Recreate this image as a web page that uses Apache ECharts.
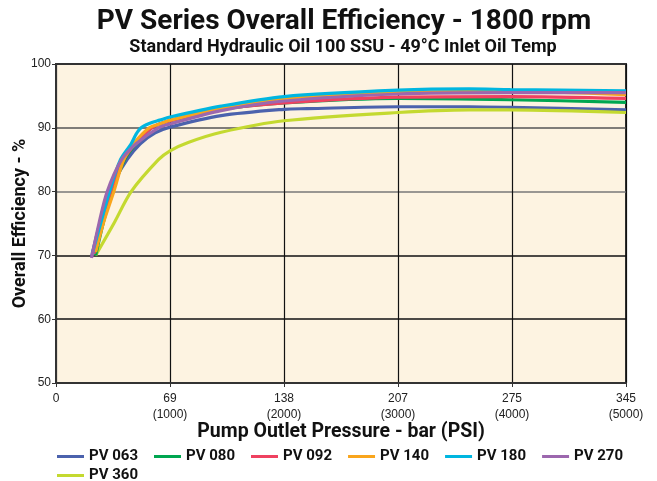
<!DOCTYPE html>
<html><head><meta charset="utf-8">
<script src="https://cdn.jsdelivr.net/npm/echarts@6/dist/echarts.min.js"></script>
<style>html,body{margin:0;padding:0;background:#fff}#c{width:657px;height:481px}</style>
</head><body><div id="c"></div>
<script>
// x values in bar, y values in % efficiency
const seriesNames = ['PV 063','PV 080','PV 092','PV 140','PV 180','PV 270','PV 360'];
const pv063 = [[21.5,69.8],[26.5,75],[32,80],[43,85],[51,87.5],[60,89.2],[69,90.1],[100,91.9],[138,92.9],[152,93.0],[207,93.3],[250,93.3],[275,93.2],[345,92.8]];
const pv080 = [[24,70],[28.5,75],[34,80],[41.5,85],[48.5,87.5],[58,90],[69,91.1],[100,92.9],[138,93.9],[207,94.6],[275,94.4],[345,94.0]];
const pv092 = [[23,70.3],[28,75],[33,80],[41,85],[48,87.5],[58,90],[69,91.1],[100,92.9],[138,93.9],[207,94.8],[275,94.9],[345,94.6]];
const pv140 = [[24,70.5],[28.6,75],[35,80],[41,85],[47,87.5],[56.5,90],[62.8,90.6],[69,91.2],[100,93.0],[138,94.6],[207,95.5],[275,95.7],[345,95.2]];
const pv180 = [[22,70.3],[27,75],[32.4,80],[39,85],[45.5,87.5],[48.5,89.0],[51.5,90],[56.8,90.7],[62.8,91.2],[69,91.7],[100,93.4],[138,94.9],[207,95.9],[250,96.1],[275,96.0],[345,95.8]];
const pv270 = [[21.5,69.6],[26,75],[31,80],[39.7,85],[48.5,87.5],[62,90],[69,90.6],[100,92.7],[138,94.2],[207,95.3],[275,95.5],[345,95.5]];
const pv360 = [[24,70],[35,75],[45.5,80],[62,85],[69,86.4],[80,87.7],[100,89.3],[138,91.1],[207,92.4],[250,92.8],[275,92.8],[345,92.4]];
const seriesData = [pv063,pv080,pv092,pv140,pv180,pv270,pv360];
const colors = ['#4b62ad','#00a650','#ef4160','#f9a51c','#00b6e0','#9c67ae','#c4d930'];
const xTickValues = [0,69,138,207,276,345];
const xTickLabels = ['0','69\n(1000)','138\n(2000)','207\n(3000)','275\n(4000)','345\n(5000)'];

const chart = echarts.init(document.getElementById('c'), null, {renderer:'canvas'});
const bold = 'Roboto, Liberation Sans, Arial, sans-serif';
const tick = 'Liberation Sans, Arial, sans-serif';
const legendText = {fontFamily:bold,fontWeight:'bold',fontSize:15,color:'#111'};
chart.setOption({
  animation:false,
  backgroundColor:'#ffffff',
  title:[
    {text:'PV Series Overall Efficiency - 1800 rpm', left:339, textAlign:'center', top:3,
     textStyle:{fontFamily:bold,fontWeight:'bold',fontSize:28,color:'#111'}},
    {text:'Standard Hydraulic Oil 100 SSU - 49°C Inlet Oil Temp', left:338, textAlign:'center', top:33,
     textStyle:{fontFamily:bold,fontWeight:'bold',fontSize:18,color:'#111'}}
  ],
  grid:{left:56,right:31,top:64,bottom:98,outerBoundsMode:'none',show:true,backgroundColor:'#fdf3e1',borderColor:'#333',borderWidth:2},
  legend:[
    {data:seriesNames.slice(0,6),left:52,top:444,width:620,itemWidth:27,itemHeight:3,itemGap:16,icon:'rect',textStyle:legendText},
    {data:seriesNames.slice(6),left:52,top:463,itemWidth:27,itemHeight:3,itemGap:16,icon:'rect',textStyle:legendText}
  ],
  xAxis:{type:'value',min:0,max:345,interval:69,
    name:'Pump Outlet Pressure - bar (PSI)',nameLocation:'middle',nameGap:39,nameMoveOverlap:false,
    nameTextStyle:{fontFamily:bold,fontWeight:'bold',fontSize:19.5,color:'#111'},
    axisLine:{show:true,lineStyle:{color:'#333',width:2}},
    axisTick:{show:true,length:4,lineStyle:{color:'#333'}},
    axisLabel:{fontFamily:tick,fontSize:12,color:'#222',lineHeight:16,margin:8,
      formatter:function(v){const i=xTickValues.indexOf(Math.round(v));return i>=0?xTickLabels[i]:'';}},
    splitLine:{show:true,lineStyle:{color:'#111',width:1.2}}},
  yAxis:{type:'value',min:50,max:100,interval:10,
    name:'Overall Efficiency - %',nameLocation:'middle',nameGap:27,nameMoveOverlap:false,
    nameTextStyle:{fontFamily:bold,fontWeight:'bold',fontSize:18,color:'#111'},
    axisLine:{show:true,lineStyle:{color:'#333',width:2}},
    axisTick:{show:true,length:4,lineStyle:{color:'#333'}},
    axisLabel:{fontFamily:tick,fontSize:12,color:'#222',margin:5},
    splitLine:{show:true,lineStyle:{color:['#222','#111','#111','#777','#555','#333'],width:1.5}}},
  series: seriesNames.map((n,i)=>({
    name:n,type:'line',data:seriesData[i],smooth:0.3,showSymbol:false,symbol:'none',
    lineStyle:{color:colors[i],width:3.2},itemStyle:{color:colors[i]},z:2+(i===6?0:i)
  }))
});
</script></body></html>
